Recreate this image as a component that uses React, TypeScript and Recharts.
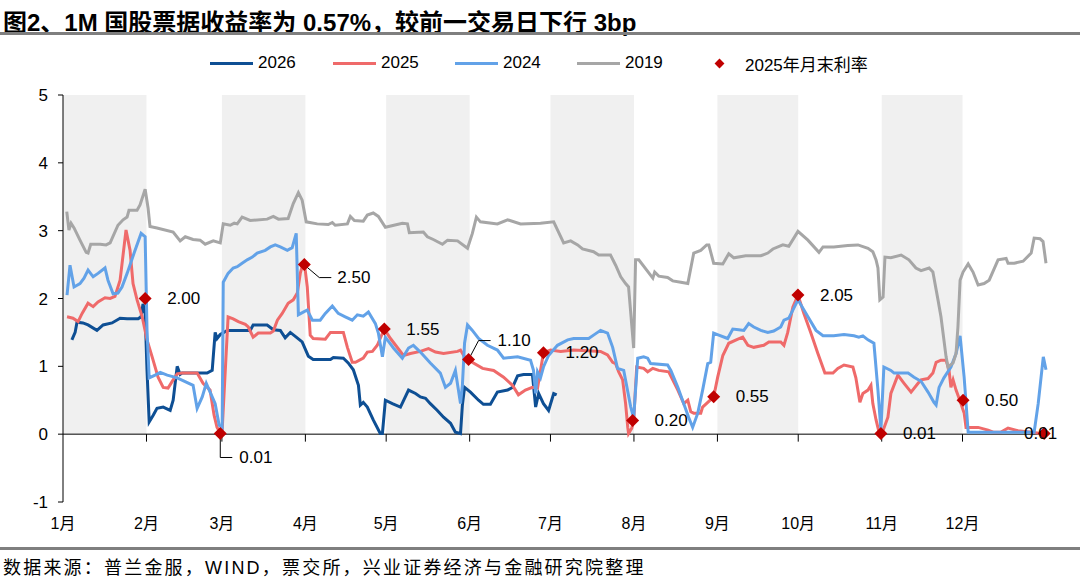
import React from "react";
import { ComposedChart, Line, Scatter, XAxis, YAxis, ReferenceArea, ReferenceLine } from "recharts";

// x = day of year (0 = Jan 1), y = yield (%)
const monthLabels = ["1月", "2月", "3月", "4月", "5月", "6月", "7月", "8月", "9月", "10月", "11月", "12月"];
const monthStarts = [0, 31, 59, 90, 120, 151, 181, 212, 243, 273, 304, 334];
const shadedMonths = [[0, 31], [59, 90], [120, 151], [181, 212], [243, 273], [304, 334]];
const yTicks = [-1, 0, 1, 2, 3, 4, 5];

const s2026: [number, number][] = [
  [3.3, 1.39], [4.5, 1.5], [5.2, 1.65], [7.4, 1.64], [9.3, 1.61], [12.6, 1.53], [14.9, 1.61], [18.2, 1.64],
  [21.2, 1.71], [23.8, 1.7], [27.9, 1.7], [29, 1.73], [29.7, 1.92], [30.5, 1.78], [31.2, 0.94], [32, 0.18],
  [33.5, 0.28], [34.9, 0.38], [37.2, 0.4], [39.8, 0.35], [40.9, 0.5], [42.4, 1.0], [43.5, 0.88], [44.2, 0.9],
  [53.5, 0.9], [55.4, 0.94], [56.5, 1.5], [57.2, 1.41], [58.4, 1.47], [61, 1.53], [69.5, 1.53], [70.6, 1.61],
  [75.8, 1.61], [78.1, 1.54], [80.7, 1.53], [82.5, 1.42], [84.4, 1.5], [86.6, 1.43], [88.8, 1.36], [91.1, 1.15],
  [92.9, 1.1], [99.3, 1.1], [100.4, 1.13], [104.1, 1.12], [105.9, 1.05], [107.8, 0.95], [109.7, 0.72],
  [110.4, 0.43], [111.5, 0.47], [113, 0.4], [115.2, 0.21], [117.8, 0.01], [118.6, 0.01], [119.7, 0.5],
  [122.3, 0.45], [125.3, 0.4], [128.3, 0.65], [130.9, 0.6], [132.7, 0.55], [134.6, 0.53], [136.4, 0.45],
  [139, 0.35], [141.3, 0.25], [143.9, 0.16], [145.7, 0.03], [147.6, 0.01], [148.3, 0.43], [149.1, 0.69],
  [151.3, 0.62], [154.3, 0.5], [156.1, 0.44], [158.7, 0.44], [161.3, 0.62], [165.1, 0.65], [166.9, 0.69],
  [168.8, 0.86], [171, 0.88], [174.3, 0.88], [175.5, 0.4], [176.6, 0.6], [178.4, 0.45], [180.3, 0.35],
  [182.2, 0.6], [183.3, 0.58],
];

const s2025: [number, number][] = [
  [1.5, 1.73], [3.7, 1.71], [5.6, 1.66], [7.1, 1.78], [9.3, 1.93], [11.2, 1.88], [13, 1.95], [15.6, 2.01],
  [17.5, 2.0], [19.3, 2.03], [21.2, 2.27], [23.4, 3.01], [24.9, 2.71], [26, 2.22], [27.5, 1.98], [29.4, 1.73],
  [31.2, 1.39], [33.1, 1.14], [35.3, 0.84], [37.2, 0.69], [39, 0.68], [40.9, 0.8], [42.4, 0.89], [44.2, 0.9],
  [49.8, 0.9], [52, 0.75], [54.6, 0.65], [56.1, 0.28], [57.2, 0.1], [58.4, 0.02], [59.1, 0.06], [61.3, 1.73],
  [63.2, 1.7], [65.1, 1.66], [67.7, 1.62], [68.8, 1.58], [70.6, 1.43], [72.5, 1.49], [77, 1.49], [78.1, 1.52],
  [79.6, 1.68], [81.4, 1.78], [83.6, 1.93], [85.5, 1.98], [87, 2.08], [88.1, 2.37], [88.8, 2.47], [89.6, 2.5],
  [90, 2.4], [90.7, 2.17], [91.8, 1.46], [92.9, 1.41], [97.4, 1.4], [99.3, 1.5], [104.1, 1.5], [105.6, 1.28],
  [107.4, 1.06], [108.6, 1.06], [111.5, 1.12], [113, 1.21], [114.9, 1.22], [116.7, 1.31], [119.3, 1.55],
  [121.6, 1.41], [126.4, 1.16], [129, 1.19], [132.7, 1.22], [135.7, 1.26], [138.3, 1.21], [141.3, 1.19],
  [146.5, 1.22], [147.6, 1.24], [149.4, 1.12], [150.6, 1.1], [152.4, 1.05], [155.8, 0.97], [159.9, 0.94],
  [163.6, 0.84], [166.9, 0.72], [169.1, 0.58], [171.7, 0.65], [174.3, 0.69], [176.2, 0.68], [177.3, 0.94],
  [178.4, 1.2], [181, 1.24], [184.8, 1.22], [189.6, 1.24], [199.6, 1.22], [202.2, 1.17], [204.1, 1.06],
  [205.2, 1.04], [206.3, 0.92], [207.8, 0.8], [208.9, 0.45], [209.7, 0.1], [210, 0.01], [211.2, 0.09],
  [211.9, 0.2], [213, 0.99], [215.6, 0.97], [217.1, 0.92], [219, 0.97], [221.2, 0.94], [224.9, 0.92],
  [226.4, 0.8], [228.3, 0.65], [230.5, 0.45], [232, 0.5], [233.1, 0.33], [234.2, 0.31], [236.8, 0.31],
  [237.5, 0.4], [239.4, 0.47], [241.6, 0.55], [243.1, 0.84], [245, 1.16], [247.2, 1.34], [250.6, 1.4],
  [252.4, 1.43], [254.3, 1.31], [256.5, 1.28], [260.2, 1.31], [262.1, 1.36], [266.5, 1.36], [267.7, 1.31],
  [269.1, 1.5], [271, 1.87], [272.9, 2.05], [275.1, 1.78], [277.7, 1.49], [280.3, 1.19], [282.9, 0.9],
  [285.9, 0.9], [287.7, 0.97], [290, 1.02], [293.3, 0.99], [294.4, 0.83], [295.9, 0.47], [297, 0.6],
  [298.9, 0.65], [300, 0.72], [300.7, 0.45], [301.9, 0.21], [303, 0.03], [304.1, 0.01], [306.3, 0.25],
  [307.4, 0.6], [310, 0.87], [312.3, 0.75], [314.9, 0.62], [317.5, 0.75], [318.6, 0.8], [321.2, 0.82],
  [323, 0.9], [324.2, 1.06], [326, 1.09], [327.9, 1.09], [329, 0.94], [329.7, 0.69], [330.5, 0.8],
  [331.6, 0.65], [333, 0.5], [334.6, 0.31], [335.3, 0.1], [337.2, 0.1], [339.8, 0.1], [343.5, 0.06],
  [345.4, 0.03], [348.3, 0.03], [350.9, 0.09], [354.6, 0.05], [359.5, 0.03], [363.2, 0.01], [365, 0.01],
];

const s2024: [number, number][] = [
  [1.5, 2.05], [2.6, 2.49], [4.1, 2.17], [6.3, 2.22], [7.8, 2.3], [9.3, 2.42], [11.2, 2.32], [13, 2.37],
  [15.6, 2.45], [16.7, 2.27], [18.6, 2.07], [20.4, 2.08], [21.9, 2.17], [23.8, 2.37], [26.4, 2.67], [29, 2.96],
  [30.5, 2.91], [31.2, 1.53], [32, 0.83], [34.2, 0.87], [36.1, 0.91], [38.7, 0.87], [42.4, 0.83], [48.3, 0.72],
  [49.8, 0.38], [51.7, 0.55], [53.2, 0.75], [55.4, 0.55], [56.5, 0.45], [58, 0.13], [59.1, 0.1], [59.5, 2.24],
  [61.3, 2.37], [63.2, 2.45], [64.7, 2.47], [66.5, 2.52], [68.4, 2.57], [70.3, 2.61], [72.1, 2.67], [75.1, 2.71],
  [77, 2.76], [78.8, 2.79], [80.7, 2.76], [83.3, 2.71], [85.1, 2.75], [86.6, 2.96], [87.4, 1.76], [89.2, 1.8],
  [90.7, 1.83], [92.6, 1.68], [95.5, 1.68], [97.4, 1.78], [100, 1.89], [102.2, 1.78], [104.8, 1.73],
  [107.4, 1.68], [109.3, 1.76], [111.5, 1.74], [113.4, 1.8], [116, 1.63], [117.1, 1.49], [118.6, 1.14],
  [119.7, 1.43], [122.7, 1.27], [126, 1.12], [128.3, 1.27], [130.1, 1.31], [132.7, 1.21], [136.4, 1.05],
  [140.1, 0.9], [142, 0.69], [143.9, 0.75], [145.7, 0.94], [147.6, 0.45], [148.3, 0.72], [149.1, 1.34],
  [150.2, 1.61], [152, 1.53], [154.3, 1.41], [157.6, 1.31], [161.3, 1.24], [163.6, 1.12], [168.8, 1.14],
  [173.6, 1.09], [174.7, 0.94], [175.5, 0.6], [176.2, 0.92], [177.3, 0.83], [178.4, 0.99], [180.3, 1.16],
  [183.6, 1.31], [187.4, 1.39], [189.6, 1.41], [195.2, 1.41], [197, 1.46], [199.6, 1.53], [202.2, 1.49],
  [204.1, 1.28], [205.9, 0.97], [208.2, 0.94], [210.8, 0.4], [211.9, 0.24], [213.4, 1.12], [215.6, 1.14],
  [217.1, 1.12], [218.2, 1.04], [224.5, 1.02], [225.7, 0.94], [228.3, 0.69], [230.5, 0.45], [232.3, 0.25],
  [233.8, 0.1], [235.7, 0.31], [237.5, 0.65], [239.4, 1.04], [240.5, 1.06], [241.6, 1.49], [243.5, 1.46],
  [246.8, 1.41], [248.7, 1.55], [250.9, 1.54], [252.8, 1.53], [254.6, 1.63], [256.5, 1.58], [259.1, 1.53],
  [261.7, 1.5], [263.9, 1.52], [266.5, 1.58], [267.7, 1.68], [269.5, 1.71], [272.9, 1.98], [276.6, 1.73],
  [279.6, 1.53], [282.2, 1.45], [286.2, 1.45], [290, 1.47], [293.7, 1.45], [295.5, 1.43], [297, 1.45],
  [298.9, 1.39], [301.1, 1.34], [302.6, 0.65], [303.7, 0.06], [304.8, 0.99], [307.4, 0.94], [308.6, 0.9],
  [313.8, 0.9], [316, 0.84], [318.6, 0.78], [321.2, 0.62], [323.4, 0.47], [324.2, 0.43], [325.3, 0.69],
  [327.1, 0.83], [329.7, 0.99], [331.6, 1.19], [333.1, 1.45], [334.6, 0.84], [336.1, 0.03], [360.6, 0.03],
  [362.1, 0.45], [364, 1.14], [365, 0.95],
];

const s2019: [number, number][] = [
  [1.4, 3.28], [2.2, 3.01], [3, 3.11], [4.1, 3.04], [6.3, 2.86], [8.6, 2.68], [9.3, 2.67], [10.3, 2.8],
  [13.8, 2.8], [16, 2.79], [17.5, 2.82], [20.4, 3.08], [22.3, 3.16], [23.8, 3.2], [24.5, 3.3], [27.5, 3.3],
  [28.6, 3.38], [30.5, 3.61], [31.6, 3.33], [32.3, 3.06], [34.9, 3.04], [40.9, 2.98], [43.5, 2.85], [45.4, 2.91],
  [48.3, 2.87], [50.9, 2.86], [52.8, 2.8], [55.8, 2.85], [58.4, 2.82], [59.5, 3.1], [62.1, 3.08], [63.6, 3.11],
  [64.7, 3.1], [66.5, 3.2], [69.5, 3.15], [75.8, 3.17], [78.1, 3.21], [80, 3.17], [83.6, 3.18], [85.5, 3.4],
  [87.4, 3.56], [88.8, 3.45], [90.3, 3.13], [94.4, 3.1], [98.5, 3.09], [100, 3.12], [101.1, 3.08], [105.6, 3.1],
  [106.7, 3.21], [108.2, 3.15], [111.5, 3.14], [113, 3.23], [115.2, 3.26], [117.1, 3.21], [119.7, 3.05],
  [126, 3.11], [127.9, 3.1], [128.6, 2.97], [133.8, 2.98], [135.3, 2.91], [137.5, 2.87], [140.9, 2.8],
  [142.8, 2.86], [146.5, 2.85], [150.2, 2.74], [152, 2.96], [153.5, 3.2], [155, 3.13], [161.3, 3.1],
  [165.1, 3.16], [169.9, 3.1], [177.3, 3.11], [182.2, 3.13], [184, 2.98], [185.9, 2.82], [188.5, 2.85],
  [191.1, 2.79], [192.9, 2.73], [197, 2.69], [198.9, 2.64], [203.3, 2.64], [205.2, 2.49], [207.1, 2.32],
  [208.9, 2.22], [210, 2.17], [211.9, 1.27], [212.6, 2.57], [213.8, 2.57], [219, 2.3], [219.7, 2.39],
  [221.2, 2.33], [224.5, 2.31], [226.4, 2.26], [229.4, 2.24], [232, 2.22], [234.2, 2.67], [236.8, 2.71],
  [239, 2.79], [239.8, 2.79], [241.6, 2.52], [245, 2.51], [247.2, 2.66], [249.1, 2.6], [253.5, 2.63],
  [259.1, 2.63], [261.7, 2.67], [263.6, 2.73], [267.3, 2.79], [269.5, 2.77], [272.9, 2.99], [276.6, 2.86],
  [280.7, 2.68], [282.2, 2.76], [286.2, 2.76], [291.4, 2.78], [295.2, 2.79], [298.9, 2.74], [300.7, 2.69],
  [301.9, 2.57], [302.6, 2.45], [303.3, 1.98], [304.5, 2.02], [305.2, 2.61], [307.4, 2.6], [311.2, 2.64],
  [314.1, 2.57], [316.7, 2.45], [318.6, 2.41], [321.6, 2.45], [323, 2.39], [324.9, 1.98], [326, 1.73],
  [327.9, 1.14], [328.6, 0.99], [330.5, 1.05], [331.6, 1.19], [332.3, 1.58], [333.1, 2.27], [334.2, 2.39],
  [336.1, 2.51], [337.9, 2.39], [339.8, 2.2], [342, 2.22], [343.9, 2.27], [347.2, 2.57], [350.2, 2.59],
  [350.9, 2.52], [353.2, 2.52], [356.5, 2.55], [359.5, 2.67], [360.6, 2.89], [362.8, 2.88], [363.9, 2.84],
  [365, 2.52],
];

// 2025 month-end rates
const monthEnd2025: [number, number][] = [
  [30.5, 2.0], [58.4, 0.01], [89.6, 2.5], [119.3, 1.55], [150.6, 1.1], [178.4, 1.2],
  [211.5, 0.2], [241.6, 0.55], [272.9, 2.05], [303.7, 0.01], [334.2, 0.5], [364.3, 0.01],
];

const toRows = (arr: [number, number][]) => arr.map(([d, v], i) => ({ d, v, i }));

const COLORS = { c2026: "#0e4f94", c2025: "#ef6a6a", c2024: "#62a2e8", c2019: "#a6a6a6", marker: "#c00000" };
const FONT = '"Liberation Sans", Arial, "Noto Sans CJK SC", sans-serif';

// label offsets (px) for the month-end markers; leader lines where the label is moved away
const labelStyle: Record<number, { dx: number; dy: number; leader?: string }> = {
  1: { dx: 19, dy: 24, leader: "M0,0 L0,24 L12,24" },
  2: { dx: 33, dy: 13, leader: "M2,2 L15,13 L27,13" },
  4: { dx: 29, dy: -19, leader: "M0,0 L10,-19 L22,-19" },
  11: { dx: -20, dy: 0 },
};

const MarkerShape = (props: any) => {
  const { cx, cy, payload } = props;
  if (cx == null || cy == null) return null;
  const st = labelStyle[payload.i] ?? { dx: 22, dy: 0 };
  const r = 6.5;
  return (
    <g>
      {st.leader && <path d={st.leader} transform={`translate(${cx},${cy})`} stroke="#000" fill="none" strokeWidth={1} />}
      <polygon points={`${cx},${cy - r} ${cx + r},${cy} ${cx},${cy + r} ${cx - r},${cy}`} fill={COLORS.marker} />
      <text x={cx + st.dx} y={cy + st.dy} dominantBaseline="central" fontSize={17} fontFamily={FONT} fill="#000">
        {payload.v.toFixed(2)}
      </text>
    </g>
  );
};

const legendItems = [
  { label: "2026", color: COLORS.c2026, left: 210 },
  { label: "2025", color: COLORS.c2025, left: 333 },
  { label: "2024", color: COLORS.c2024, left: 455 },
  { label: "2019", color: COLORS.c2019, left: 577 },
];

export default function App() {
  return (
    <div style={{ position: "absolute", left: 0, top: 0, width: 1080, height: 578, background: "#fff", fontFamily: FONT, overflow: "hidden" }}>
      <div style={{ position: "absolute", left: 3, top: 3, fontSize: 24, fontWeight: "bold", whiteSpace: "nowrap", color: "#000" }}>
        图2、1M 国股票据收益率为 0.57%，较前一交易日下行 3bp
      </div>
      <div style={{ position: "absolute", left: 0, top: 32, width: 1080, height: 3, background: "#7f7f7f" }} />

      {legendItems.map((it) => (
        <div key={it.label} style={{ position: "absolute", left: it.left, top: 53, height: 20, display: "flex", alignItems: "center", fontSize: 17 }}>
          <span style={{ display: "inline-block", width: 43, height: 3, background: it.color, marginRight: 5 }} />
          <span>{it.label}</span>
        </div>
      ))}
      <div style={{ position: "absolute", left: 716, top: 53, height: 20, display: "flex", alignItems: "center", fontSize: 17 }}>
        <span style={{ display: "inline-block", width: 7, height: 7, background: COLORS.marker, transform: "rotate(45deg)", marginRight: 22 }} />
        <span>2025年月末利率</span>
      </div>

      <div style={{ position: "absolute", left: 0, top: 0 }}>
        <ComposedChart width={1080} height={578} margin={{ top: 95, right: 34, bottom: 46, left: 23 }}>
          {shadedMonths.map(([a, b]) => (
            <ReferenceArea key={a} x1={a} x2={b} y1={0} y2={5} fill="#f0f0f0" fillOpacity={1} stroke="none" />
          ))}
          <XAxis
            type="number"
            dataKey="d"
            domain={[0, 365]}
            ticks={monthStarts}
            interval={0}
            tickFormatter={(v: number) => monthLabels[monthStarts.indexOf(v)]}
            axisLine={false}
            tickLine={false}
            tickMargin={10}
            height={30}
            tick={{ fill: "#000", fontSize: 16, fontFamily: FONT }}
          />
          <YAxis
            type="number"
            domain={[-1, 5]}
            ticks={yTicks}
            interval={0}
            width={40}
            axisLine={{ stroke: "#000" }}
            tickLine={{ stroke: "#000" }}
            tickSize={5}
            tickMargin={10}
            tick={{ fill: "#000", fontSize: 17, fontFamily: FONT }}
          />
          <ReferenceLine y={0} stroke="#000" strokeWidth={1} />
          {monthStarts.slice(1).map((m) => (
            <ReferenceLine key={m} segment={[{ x: m, y: 0 }, { x: m, y: -0.11 }]} stroke="#000" strokeWidth={1} />
          ))}
          <Line data={toRows(s2026)} dataKey="v" type="linear" stroke={COLORS.c2026} strokeWidth={3} dot={false} isAnimationActive={false} />
          <Line data={toRows(s2025)} dataKey="v" type="linear" stroke={COLORS.c2025} strokeWidth={3} dot={false} isAnimationActive={false} />
          <Line data={toRows(s2024)} dataKey="v" type="linear" stroke={COLORS.c2024} strokeWidth={3} dot={false} isAnimationActive={false} />
          <Line data={toRows(s2019)} dataKey="v" type="linear" stroke={COLORS.c2019} strokeWidth={3} dot={false} isAnimationActive={false} />
          <Scatter data={toRows(monthEnd2025)} dataKey="v" shape={MarkerShape} isAnimationActive={false} />
        </ComposedChart>
      </div>

      <div style={{ position: "absolute", left: 0, top: 547, width: 1080, height: 3, background: "#7f7f7f" }} />
      <div style={{ position: "absolute", left: 3, top: 553, fontSize: 18, letterSpacing: 2.2, whiteSpace: "nowrap", color: "#000" }}>
        数据来源：普兰金服，WIND，票交所，兴业证券经济与金融研究院整理
      </div>
    </div>
  );
}
